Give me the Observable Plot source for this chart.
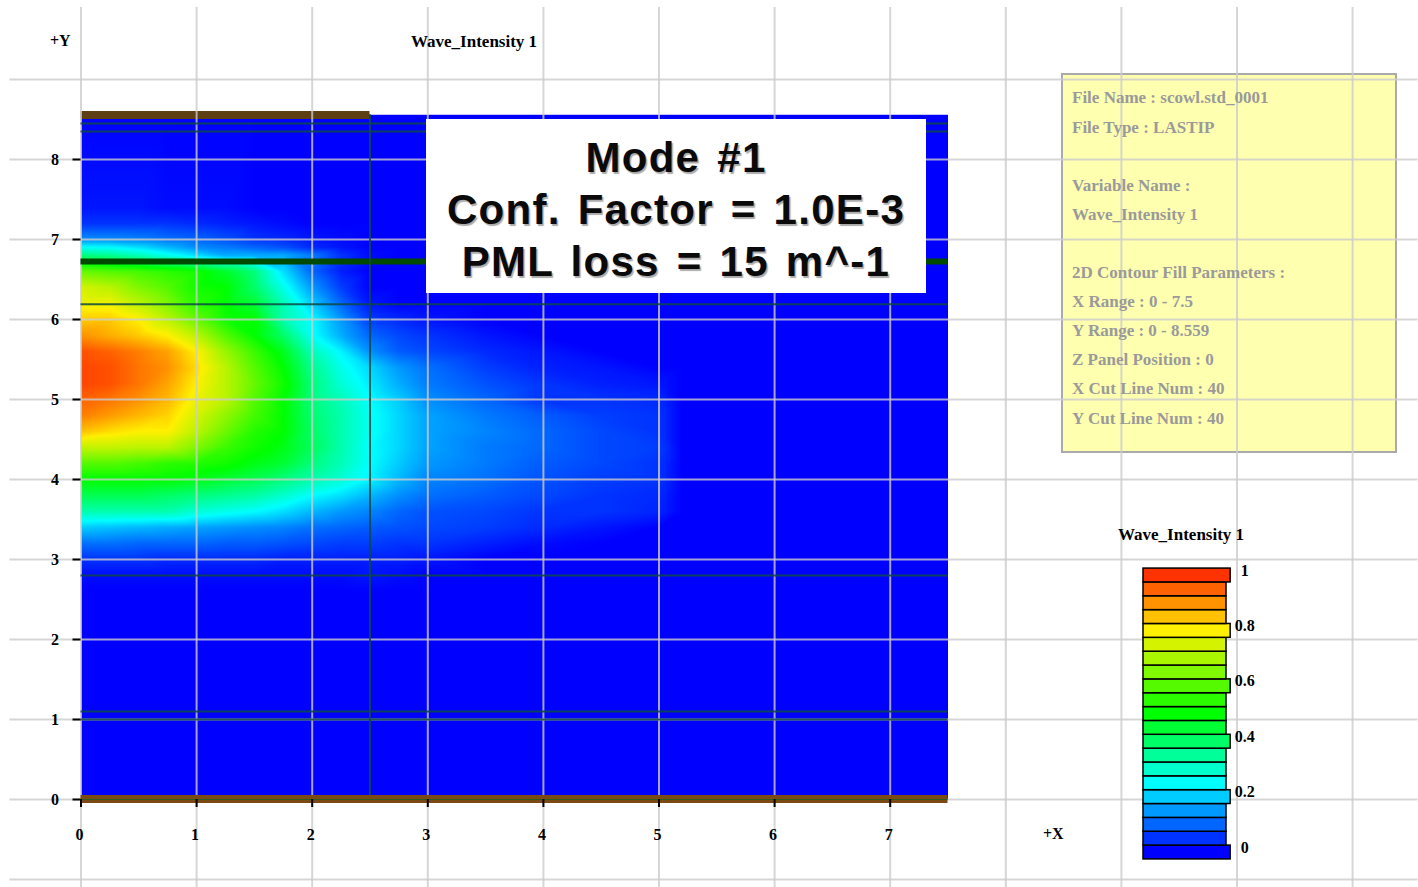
<!DOCTYPE html>
<html><head><meta charset="utf-8">
<script src="https://cdn.jsdelivr.net/npm/d3@7"></script>
<script src="https://cdn.jsdelivr.net/npm/@observablehq/plot@0.6"></script>
<style>
html,body{margin:0;padding:0;background:#fff;width:1418px;height:887px;overflow:hidden}
#page{position:relative;width:1418px;height:887px}
#page svg{position:absolute;background:transparent}
.t{position:absolute;white-space:nowrap;font-family:"Liberation Serif",serif;font-weight:bold;color:#000}
#info{position:absolute;left:1061px;top:73px;width:332px;height:376px;background:#ffffb0;border:2px solid #aaa}
#note{position:absolute;left:426px;top:119px;width:500px;height:161px;padding-top:13px;background:#fff;text-align:center;font-family:"Liberation Sans",sans-serif;font-weight:bold;font-size:42px;line-height:52px;letter-spacing:1.3px;word-spacing:4px;color:#0a0a0a;text-shadow:1.5px 1.5px 1px #aaa}
</style></head><body><div id="page"></div>
<script>
const xs=[0,.25,.5,.75,1,1.25,1.5,1.75,2,2.25,2.5,2.75,3,3.5,4,4.5,5,5.2,7.5];
const ys=[8.559,7.4,7.2,7,6.9,6.8,6.6,6.4,6.2,6,5.8,5.6,5.4,5.2,5,4.8,4.6,4.4,4.2,4,3.8,3.6,3.4,3.2,3,2.8,2.6,0];
const intensity=[
[0,0,0,0,0,0,0,0,0,0,0,0,0,0,0,0,0,0,0],
[.02,.02,.02,.01,.01,.01,0,0,0,0,0,0,0,0,0,0,0,0,0],
[.05,.05,.05,.05,.04,.03,.02,.01,0,0,0,0,0,0,0,0,0,0,0],
[.14,.14,.13,.11,.1,.08,.05,.04,.02,.01,0,0,0,0,0,0,0,0,0],
[.26,.25,.22,.18,.14,.12,.1,.08,.04,.02,0,0,0,0,0,0,0,0,0],
[.38,.36,.32,.27,.22,.17,.17,.17,.12,.05,.01,0,0,0,0,0,0,0,0],
[.62,.6,.58,.55,.52,.46,.38,.22,.1,.03,0,0,0,0,0,0,0,0,0],
[.75,.72,.65,.6,.52,.5,.4,.27,.15,.06,0,0,0,0,0,0,0,0,0],
[.78,.78,.72,.65,.55,.5,.45,.32,.2,.1,.02,0,0,0,0,0,0,0,0],
[.84,.84,.8,.72,.62,.52,.5,.33,.25,.15,.06,.04,.02,0,0,0,0,0,0],
[.9,.87,.84,.8,.72,.6,.5,.4,.26,.17,.1,.07,.05,.02,0,0,0,0,0],
[.97,.95,.92,.88,.8,.68,.57,.47,.32,.24,.14,.09,.07,.04,.02,0,0,0,0],
[.98,.97,.93,.9,.82,.72,.6,.5,.36,.27,.21,.15,.11,.06,.03,.02,0,0,0],
[.98,.97,.93,.88,.8,.72,.62,.52,.38,.29,.23,.17,.12,.08,.05,.03,.02,0,0],
[.95,.93,.9,.86,.78,.72,.6,.5,.38,.32,.25,.2,.14,.1,.05,.05,.04,0,0],
[.92,.89,.86,.83,.75,.67,.58,.5,.39,.33,.26,.21,.16,.12,.09,.06,.05,0,0],
[.85,.82,.8,.8,.72,.63,.54,.5,.4,.33,.26,.21,.16,.13,.1,.07,.05,0,0],
[.73,.73,.72,.72,.65,.57,.52,.48,.41,.33,.25,.21,.16,.12,.1,.07,.06,0,0],
[.6,.6,.58,.55,.54,.52,.48,.45,.38,.32,.25,.2,.15,.12,.09,.07,.05,0,0],
[.5,.5,.5,.5,.48,.45,.42,.38,.33,.29,.24,.18,.13,.11,.08,.06,.05,0,0],
[.42,.42,.42,.4,.38,.36,.34,.3,.25,.22,.18,.14,.11,.09,.07,.05,.04,0,0],
[.33,.33,.33,.33,.29,.27,.25,.22,.18,.15,.13,.1,.08,.07,.05,.05,.035,0,0],
[.2,.19,.18,.17,.16,.15,.14,.13,.11,.1,.09,.08,.07,.06,.04,.02,0,0,0],
[.11,.11,.1,.1,.1,.09,.09,.08,.07,.06,.06,.05,.05,.03,.01,0,0,0,0],
[.05,.05,.05,.04,.04,.04,.04,.03,.03,.03,.03,.03,.02,0,0,0,0,0,0],
[.01,.01,.01,.01,.01,.01,.01,.01,.01,.01,.02,.01,0,0,0,0,0,0,0],
[0,0,0,0,0,0,0,0,0,0,0,0,0,0,0,0,0,0,0],
[0,0,0,0,0,0,0,0,0,0,0,0,0,0,0,0,0,0,0]
];
const xTicks=[0,1,2,3,4,5,6,7];
const yTicks=[0,1,2,3,4,5,6,7,8];
const gridX=[0,1,2,3,4,5,6,7,8,9,10,11];
const gridY=[-1,0,1,2,3,4,5,6,7,8,9];
const thinLayers=[8.45,8.35,6.19,2.8,1.1,1];
const thickLayer=[6.725];
const legendLevels=[0,.05,.1,.15,.2,.25,.3,.35,.4,.45,.5,.55,.6,.65,.7,.75,.8,.85,.9,.95,1];
const legendMajor=[0,.2,.4,.6,.8,1];
const infoLines=["File Name : scowl.std_0001","File Type : LASTIP","","Variable Name :","Wave_Intensity 1","","2D Contour Fill Parameters :","X Range : 0 - 7.5","Y Range : 0 - 8.559","Z Panel Position : 0","X Cut Line Num : 40","Y Cut Line Num : 40"];
const noteLines=["Mode #1","Conf. Factor = 1.0E-3","PML loss = 15 m^-1"];

const cells=[];
ys.forEach((y,r)=>xs.forEach((x,c)=>cells.push({x,y,v:intensity[r][c]})));
const colorScale={type:"linear",domain:[0,.25,.5,.8,1],range:["#0000ff","#00ffff","#00ff00","#fff000","#ff3300"],clamp:true};
const page=document.getElementById("page");

const info=document.createElement("div");info.id="info";page.appendChild(info);

const serif="Liberation Serif";
const main=Plot.plot({
  width:1418,height:887,marginLeft:80.5,marginRight:0,marginTop:0,marginBottom:88,
  x:{domain:[0,1337.5/115.6],axis:null},
  y:{domain:[0,799/80],axis:null},
  color:colorScale,
  style:{background:"transparent"},
  marks:[
    Plot.raster(cells,{x:"x",y:"y",fill:"v",x1:0,x2:7.5,y1:0,y2:8.559,interpolate:"barycentric",pixelSize:1}),
    Plot.rectY([0],{x1:0,x2:2.5,y1:8.5,y2:8.6,fill:"#5e3f14"}),
    Plot.ruleY(gridY,{x1:-.615,x2:1337/115.6,stroke:"#ccc",strokeOpacity:.8,strokeWidth:2}),
    Plot.ruleX(gridX,{y1:-1.1,y2:9.9,stroke:"#ccc",strokeOpacity:.8,strokeWidth:2}),
    Plot.ruleY(thinLayers,{x1:0,x2:7.5,stroke:"#0c4a42",strokeOpacity:.85,strokeWidth:2}),
    Plot.ruleY(thickLayer,{x1:0,x2:7.5,stroke:"#004a00",strokeWidth:6}),
    Plot.ruleX([2.5],{y1:0,y2:8.559,stroke:"#0c4a42",strokeOpacity:.85,strokeWidth:2}),
    Plot.rectY([0],{x1:0,x2:7.5,y1:-.05,y2:.05,fill:"#7a4a14"}),
    Plot.ruleY([0],{x1:0,x2:7.5,stroke:"#2f5a1e",strokeWidth:1}),
    Plot.axisX(xTicks,{anchor:"bottom",tickSize:8,text:null,strokeWidth:2,stroke:"#000",label:null}),
    Plot.axisX(xTicks,{anchor:"bottom",tickSize:0,tickPadding:29,dx:-1.5,fontSize:16,fontWeight:"bold",fontFamily:serif,fill:"#000",label:null,tickFormat:d=>String(d)}),
    Plot.axisY(yTicks,{anchor:"left",tickSize:8,tickPadding:14,strokeWidth:2,stroke:"#000",fontSize:16,fontWeight:"bold",fontFamily:serif,fill:"#000",label:null,tickFormat:d=>String(d)})
  ]
});
main.style.left="0";main.style.top="0";page.appendChild(main);

const legend=Plot.plot({
  width:180,height:340,margin:0,
  x:{domain:[0,1],range:[43,126],axis:null},
  y:{domain:[0,1],range:[312,35],axis:null},
  color:colorScale,
  style:{background:"transparent"},
  marks:[
    Plot.rect(legendLevels,{x1:0,x2:d=>legendMajor.includes(d)?1.05:1,y1:d=>d-.025,y2:d=>d+.025,fill:d=>d,stroke:"#000",strokeWidth:1.5}),
    Plot.text(legendMajor,{x:1.22,y:d=>d,dy:-5,text:d=>String(d),fontSize:16,fontWeight:"bold",fontFamily:serif,fill:"#000"})
  ]
});
legend.style.left="1100px";legend.style.top="540px";page.appendChild(legend);

function label(txt,left,top,size,color){
  const d=document.createElement("div");d.className="t";d.textContent=txt;
  d.style.left=left+"px";d.style.top=top+"px";d.style.fontSize=size+"px";
  if(color)d.style.color=color;page.appendChild(d);return d;
}
label("+Y",50,32,16);
label("Wave_Intensity 1",411,32,17);
label("+X",1043,825,16);
label("Wave_Intensity 1",1118,525,17);
const infoY=[88,118,null,176,205,null,263,292,321,350,379,409];
infoLines.forEach((s,i)=>{if(s)label(s,1072,infoY[i],17,"#9a9a9a");});

const note=document.createElement("div");note.id="note";
note.innerHTML=noteLines.map(s=>"<div>"+s+"</div>").join("");
page.appendChild(note);
</script></body></html>
